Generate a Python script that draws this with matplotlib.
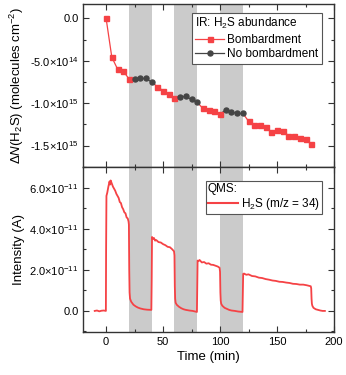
import matplotlib
matplotlib.use('Agg')
import matplotlib.pyplot as plt
from matplotlib.lines import Line2D
from matplotlib.ticker import MultipleLocator, FuncFormatter

plt.rcParams['font.family'] = 'Liberation Sans'
plt.rcParams['mathtext.fontset'] = 'custom'
plt.rcParams['mathtext.rm'] = 'Liberation Sans'
plt.rcParams['mathtext.it'] = 'Liberation Sans:italic'

RED = '#f54245'
GREY = '#454545'
SHADE = '#cbcbcb'

# IR: H2S column density change (molecules cm^-2)
t_bomb = [0, 5, 10, 15, 20, 45, 50, 55, 60, 85, 90, 95, 100,
          125, 130, 135, 140, 145, 150, 155, 160, 165, 170, 175, 180]
n_bomb = [0.0, -4.57e14, -5.97e14, -6.2e14, -7.13e14,
          -8.06e14, -8.53e14, -8.95e14, -9.34e14,
          -1.062e15, -1.085e15, -1.093e15, -1.132e15,
          -1.213e15, -1.26e15, -1.26e15, -1.287e15, -1.337e15, -1.322e15,
          -1.326e15, -1.384e15, -1.384e15, -1.407e15, -1.422e15, -1.488e15]
t_nobomb = [25, 30, 35, 40, 65, 70, 75, 80, 105, 110, 115, 120]
n_nobomb = [-7.13e14, -7.09e14, -7.09e14, -7.52e14,
            -9.3e14, -9.19e14, -9.57e14, -9.92e14,
            -1.078e15, -1.105e15, -1.12e15, -1.12e15]

# no-bombardment windows (min)
windows = [(20, 40), (60, 80), (100, 120)]

# QMS H2S (m/z = 34) current, in units of 1e-11 A
qms_t = [-10, -8, -6, -4, -2, -0.2, 0, 0.3, 1, 2, 3, 3.5, 4, 5, 6, 7, 8, 9, 10,
         11, 12, 13, 14, 15, 16, 17, 18, 19, 19.7, 20, 20.3, 20.6, 21, 22, 24,
         26, 28, 30, 33, 36, 39.7,
         40, 40.3, 41, 42, 43, 44, 46, 48, 50, 52, 54, 56, 58, 59.6,
         60, 60.3, 60.6, 61, 62, 64, 66, 68, 70, 73, 76, 79.7,
         80, 80.3, 81, 82, 84, 86, 88, 90, 92, 94, 96, 98, 99.6,
         100, 100.3, 100.6, 101, 102, 104, 106, 108, 110, 113, 116, 119.7,
         120, 120.3, 121, 123, 125, 128, 131, 134, 137, 140, 143, 146, 149,
         152, 155, 158, 161, 164, 167, 170, 173, 176, 179.6,
         180, 180.3, 180.6, 181, 182, 184, 186, 188, 190, 192]
qms_i = [0.0, 0.02, -0.02, 0.01, 0.02, 0.0, 3.0, 5.6, 5.75, 6.05, 6.3, 6.15, 6.35,
         6.2, 6.05, 5.95, 5.85, 5.7, 5.6, 5.5, 5.3, 5.25, 5.05, 4.95, 4.8,
         4.75, 4.55, 4.5, 4.35, 4.2, 2.0, 0.9, 0.6, 0.45, 0.3,
         0.22, 0.16, 0.12, 0.08, 0.06, 0.05,
         1.5, 3.6, 3.5, 3.55, 3.42, 3.45, 3.35, 3.33, 3.25, 3.2, 3.12, 3.1, 3.0, 2.9,
         2.7, 1.2, 0.6, 0.4, 0.3, 0.2, 0.13, 0.08, 0.05, 0.02, 0.0, -0.05,
         1.2, 2.45, 2.42, 2.48, 2.36, 2.38, 2.3, 2.32, 2.25, 2.24, 2.2, 2.16, 2.1,
         1.9, 0.9, 0.5, 0.35, 0.25, 0.15, 0.1, 0.05, 0.02, 0.0, -0.03, -0.05,
         0.9, 1.8, 1.82, 1.76, 1.78, 1.7, 1.68, 1.62, 1.6, 1.55, 1.52, 1.48, 1.46,
         1.42, 1.41, 1.38, 1.36, 1.32, 1.31, 1.28, 1.28, 1.25, 1.2,
         1.1, 0.6, 0.35, 0.25, 0.15, 0.08, 0.05, 0.02, 0.0, 0.0]


def sci(v, pos):
    if abs(v) < 1e-30:
        return '0.0'
    exp = int(f'{v:e}'.split('e')[1])
    mant = v / 10 ** exp
    return f'{mant:.1f}' + '\u00d710$^{' + str(exp) + '}$'


def style(ax):
    ax.tick_params(which='both', direction='in', top=True, right=True,
                   labelsize=8, color='#333333', width=0.8)
    ax.tick_params(which='major', length=4.5)
    ax.tick_params(which='minor', length=2.5)
    for s in ax.spines.values():
        s.set_linewidth(1.0)
        s.set_color('#333333')
    for a, b in windows:
        ax.axvspan(a, b, color=SHADE, lw=0, zorder=0)


fig = plt.figure(figsize=(3.46, 3.75), dpi=100)
ax1 = fig.add_axes([0.2408, 0.5555, 0.7245, 0.4338])
ax2 = fig.add_axes([0.2408, 0.1139, 0.7245, 0.4416], sharex=ax1)

style(ax1)
style(ax2)

# top panel: line segments take the colour of the point they lead to
pts = sorted([(t, n, 'b') for t, n in zip(t_bomb, n_bomb)] +
             [(t, n, 'n') for t, n in zip(t_nobomb, n_nobomb)])
for p0, p1 in zip(pts[:-1], pts[1:]):
    c = RED if p1[2] == 'b' else GREY
    ax1.plot([p0[0], p1[0]], [p0[1], p1[1]], color=c, lw=0.9, zorder=2)
ax1.plot(t_bomb, n_bomb, 's', color=RED, ms=3.6, zorder=3)
ax1.plot(t_nobomb, n_nobomb, 'o', color=GREY, ms=3.6, zorder=3)

ax1.set_xlim(-20, 200)
ax1.set_ylim(-1.75e15, 1.7e14)
ax1.yaxis.set_major_locator(MultipleLocator(5e14))
ax1.yaxis.set_minor_locator(MultipleLocator(2.5e14))
ax1.yaxis.set_major_formatter(FuncFormatter(sci))
ax1.xaxis.set_major_locator(MultipleLocator(50))
ax1.xaxis.set_minor_locator(MultipleLocator(25))
plt.setp(ax1.get_xticklabels(), visible=False)
ax1.set_ylabel(r'$\Delta\mathit{N}$(H$_2$S) (molecules cm$^{-2}$)', fontsize=9.5, labelpad=3)

h1 = [Line2D([], [], color=RED, marker='s', ms=3.6, lw=0.9),
      Line2D([], [], color=GREY, marker='o', ms=3.6, lw=0.9)]
leg1 = ax1.legend(h1, ['Bombardment', 'No bombardment'], title='IR: H$_2$S abundance',
                  loc='upper right', bbox_to_anchor=(0.952, 0.947), borderaxespad=0,
                  fontsize=8.5, title_fontsize=8.5, fancybox=False, framealpha=1,
                  edgecolor='#555555', handlelength=2.4, handletextpad=0.3,
                  labelspacing=0.2, borderpad=0.3)
leg1._legend_box.align = 'left'
leg1.get_frame().set_linewidth(0.8)

# bottom panel: QMS signal
ax2.plot(qms_t, [v * 1e-11 for v in qms_i], color=RED, lw=1.3, zorder=2)
ax2.set_ylim(-1.04e-11, 7.02e-11)
ax2.yaxis.set_major_locator(MultipleLocator(2e-11))
ax2.yaxis.set_minor_locator(MultipleLocator(1e-11))
ax2.yaxis.set_major_formatter(FuncFormatter(sci))
ax2.set_xticks([0, 50, 100, 150, 200])
ax2.set_xlabel('Time (min)', fontsize=9.5, labelpad=3)
ax2.set_ylabel('Intensity (A)', fontsize=9.5, labelpad=3)

h2 = [Line2D([], [], color=RED, lw=1.5)]
leg2 = ax2.legend(h2, ['H$_2$S (m/z = 34)'], title='QMS:',
                  loc='upper right', bbox_to_anchor=(0.952, 0.914), borderaxespad=0,
                  fontsize=8.5, title_fontsize=8.5, fancybox=False, framealpha=1,
                  edgecolor='#555555', handlelength=2.5, handletextpad=0.3,
                  borderpad=0.15)
leg2._legend_box.align = 'left'
leg2._legend_box.sep = 1
leg2.get_frame().set_linewidth(0.8)

fig.savefig('out.png', dpi=100)
